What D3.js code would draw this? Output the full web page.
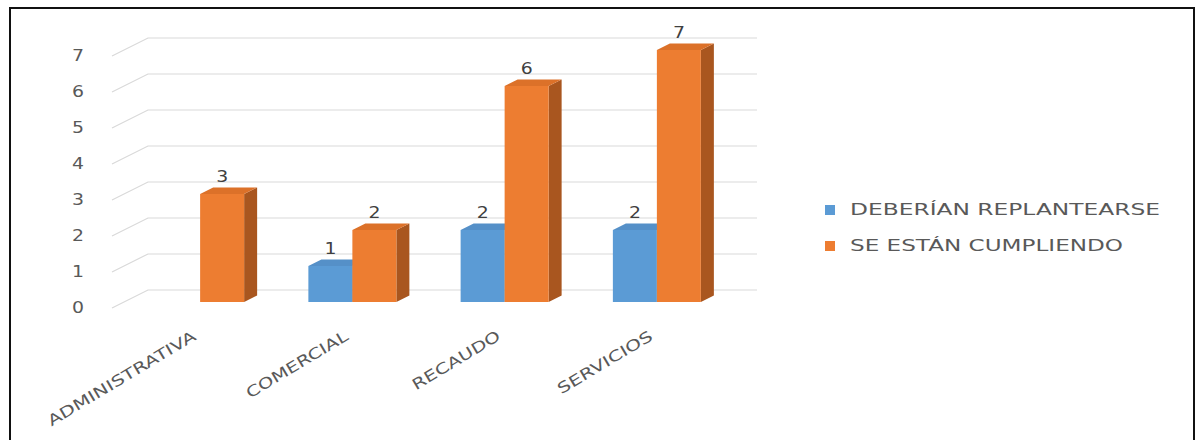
<!DOCTYPE html>
<html lang="es">
<head>
<meta charset="utf-8">
<title>Objetivos por área</title>
<script src="https://cdn.jsdelivr.net/npm/d3@7/dist/d3.min.js"></script>
<style>
  html, body { margin: 0; padding: 0; background: #fff; }
  svg { display: block; }
  text { font-family: "DejaVu Sans", sans-serif; }
</style>
</head>
<body>
<div id="chart"></div>
<script>
// Data
const categories = ["ADMINISTRATIVA", "COMERCIAL", "RECAUDO", "SERVICIOS"];
const seriesNames = ["DEBERÍAN REPLANTEARSE", "SE ESTÁN CUMPLIENDO"];
const deberianValues = [null, 1, 2, 2];
const cumpliendoValues = [3, 2, 6, 7];
const yTicks = [0, 1, 2, 3, 4, 5, 6, 7];

const W = 1197, H = 440;
const svg = d3.select("#chart").append("svg")
  .attr("width", W).attr("height", H);

svg.append("rect").attr("width", W).attr("height", H).attr("fill", "#fff");

// Outer frame
svg.append("rect")
  .attr("x", 10).attr("y", 8).attr("width", 1184).attr("height", 440)
  .attr("fill", "none").attr("stroke", "#111").attr("stroke-width", 2);

// Scales on the back wall of the 3D plot
const x0 = d3.scaleBand().domain(categories).range([148, 757]);
const x1 = d3.scaleBand().domain(seriesNames)
  .range([x0.bandwidth() / 2 - 44, x0.bandwidth() / 2 + 44]);
const y = d3.scaleLinear().domain([0, 7]).range([290, 38]);

// Oblique depth offsets (full floor depth, bar front, bar back)
const depth = { dx: -36, dy: 18 };
const front = { dx: -24, dy: 12 };
const back = { dx: -11, dy: 5.5 };

const colors = {
  "DEBERÍAN REPLANTEARSE": { front: "#5B9BD5", top: "#5590C8", side: "#41719C" },
  "SE ESTÁN CUMPLIENDO": { front: "#ED7D31", top: "#DC7129", side: "#A9561F" }
};

// Gridlines: back wall + side wall
const grid = svg.append("g").attr("stroke", "#D9D9D9").attr("stroke-width", 1.2).attr("fill", "none");
yTicks.forEach(t => {
  const yy = y(t);
  grid.append("path")
    .attr("d", `M${x0.range()[0] + depth.dx},${yy + depth.dy}L${x0.range()[0]},${yy}L${x0.range()[1]},${yy}`);
});

// Y tick labels
svg.append("g").selectAll("text").data(yTicks).join("text")
  .attr("x", 78).attr("y", d => y(d) + depth.dy)
  .attr("text-anchor", "middle").attr("dominant-baseline", "central")
  .attr("font-size", 15).attr("fill", "#595959")
  .attr("textLength", 12).attr("lengthAdjust", "spacingAndGlyphs")
  .text(d => d);

// Bars
const rows = [];
categories.forEach((c, i) => {
  rows.push({ cat: c, series: seriesNames[0], value: deberianValues[i] });
  rows.push({ cat: c, series: seriesNames[1], value: cumpliendoValues[i] });
});
const bars = rows.filter(d => d.value !== null && d.value !== undefined);

const barG = svg.append("g");
bars.forEach(d => {
  const bx = x0(d.cat) + x1(d.series);
  const w = x1.bandwidth();
  const yt = y(d.value), yb = y(0);
  const col = colors[d.series];
  const g = barG.append("g");
  // side face
  g.append("path").attr("fill", col.side).attr("d",
    `M${bx + front.dx + w},${yt + front.dy}L${bx + back.dx + w},${yt + back.dy}` +
    `L${bx + back.dx + w},${yb + back.dy}L${bx + front.dx + w},${yb + front.dy}Z`);
  // top face
  g.append("path").attr("fill", col.top).attr("d",
    `M${bx + front.dx},${yt + front.dy}L${bx + front.dx + w},${yt + front.dy}` +
    `L${bx + back.dx + w},${yt + back.dy}L${bx + back.dx},${yt + back.dy}Z`);
  // front face
  g.append("rect").attr("fill", col.front)
    .attr("x", bx + front.dx).attr("y", yt + front.dy)
    .attr("width", w).attr("height", yb - yt);
  // value label
  g.append("text")
    .attr("x", bx + front.dx + w / 2).attr("y", yt + front.dy - 17)
    .attr("text-anchor", "middle").attr("dominant-baseline", "central")
    .attr("font-size", 15).attr("fill", "#404040")
    .attr("textLength", 12).attr("lengthAdjust", "spacingAndGlyphs")
    .text(d.value);
});

// Category labels (rotated)
const catLen = { "ADMINISTRATIVA": 170, "COMERCIAL": 116, "RECAUDO": 100, "SERVICIOS": 108 };
svg.append("g").selectAll("text").data(categories).join("text")
  .attr("transform", d => `translate(${x0(d) + x0.bandwidth() / 2 + front.dx - 3},339) rotate(-31)`)
  .attr("text-anchor", "end")
  .attr("font-size", 15).attr("fill", "#595959")
  .attr("textLength", d => catLen[d]).attr("lengthAdjust", "spacingAndGlyphs")
  .text(d => d);

// Legend
const legLen = [310, 273];
const legend = svg.append("g");
seriesNames.forEach((s, i) => {
  const cy = 210 + i * 36;
  legend.append("rect")
    .attr("x", 825).attr("y", cy - 5).attr("width", 10).attr("height", 10)
    .attr("fill", colors[s].front);
  legend.append("text")
    .attr("x", 850).attr("y", cy)
    .attr("dominant-baseline", "central")
    .attr("font-size", 15).attr("fill", "#595959")
    .attr("textLength", legLen[i]).attr("lengthAdjust", "spacingAndGlyphs")
    .text(s);
});
</script>
</body>
</html>
